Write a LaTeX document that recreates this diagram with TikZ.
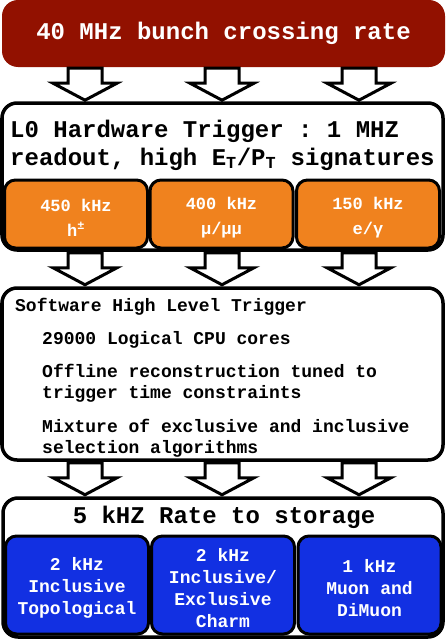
\documentclass[tikz,border=0pt]{standalone}
\usepackage{fontspec}
\setmonofont{Liberation Mono}
\definecolor{lhcbred}{RGB}{146,17,0}
\definecolor{lhcborange}{RGB}{240,130,30}
\definecolor{lhcbblue}{RGB}{18,48,226}
\begin{document}
\begin{tikzpicture}[x=1pt, y=-1pt, font=\ttfamily\bfseries,
    box/.style={draw, line width=3.5pt, rounded corners=15pt, inner sep=0pt, minimum width=441pt},
    subbox/.style={draw, line width=3pt, rounded corners=11pt, inner sep=0pt, text=white, align=center, minimum width=143pt},
    hollow/.style={draw, line width=3pt, fill=white, line join=miter},
    big/.style={font=\ttfamily\bfseries\fontsize{24}{28}\selectfont, inner sep=0pt},
    small/.style={font=\ttfamily\bfseries\fontsize{18}{21.5}\selectfont, inner sep=0pt, anchor=base west}]
    \useasboundingbox (0,0) rectangle (446,640);

    \node[fill=lhcbred, rounded corners=16pt, minimum width=443pt, minimum height=67pt, text=white, big] (rate) at (223.5,33.5) {40 MHz bunch crossing rate};

    % L0 hardware trigger
    \node[box, minimum height=147pt] (L0) at (222.5,176.5) {};
    \node[big, anchor=base west] (L0line1) at (10,137) {L0 Hardware Trigger : 1 MHZ};
    \node[big, anchor=base west] (L0line2) at (10,165) {readout, high E\textsubscript{T}/P\textsubscript{T} signatures};
    \foreach \x/\khz/\kind [count=\i] in {76/450/{h\textsuperscript{±}}, 221.5/400/{μ/μμ}, 368/150/{e/γ}} {
        \node[subbox, fill=lhcborange, minimum height=68pt] (L0sub\i) at (\x,214) {};
        \node[text=white, font=\ttfamily\bfseries\fontsize{17}{25}\selectfont, align=center] (L0rate\i) at (\x,217.5) {\khz{} kHz\\\kind};
      }

    % software HLT
    \node[box, minimum height=172pt] (HLT) at (222.5,374) {};
    \foreach \x/\y/\txt [count=\i] in {15/311/Software High Level Trigger, 42/344/29000 Logical CPU cores,
        42/377/Offline reconstruction tuned to, 42/398.5/trigger time constraints,
        42/432/Mixture of exclusive and inclusive, 42/453.5/selection algorithms} {
        \node[small] (HLTline\i) at (\x,\y) {\txt};
      }

    % output to storage
    \node[box, minimum width=440pt, minimum height=139pt] (store) at (223,567.5) {};
    \node[big, anchor=base] (storetext) at (224,523) {5 kHZ Rate to storage};
    \foreach \x/\txt [count=\i] in {77/{2 kHz\\Inclusive\\Topological}, 223/{2 kHz\\Inclusive/\\Exclusive\\Charm}, 369.5/{1 kHz\\Muon and\\DiMuon}} {
        \node[subbox, fill=lhcbblue, minimum height=98pt] (out\i) at (\x,585) {};
        \node[text=white, font=\ttfamily\bfseries\fontsize{18}{22}\selectfont, align=center] (outrate\i) at (\x,588) {\txt};
      }

    % hollow block arrows between the stages
    \foreach \a/\b in {rate/L0, L0/HLT, HLT/store} {
        \foreach \x in {85,222,359} {
            \draw[hollow] (\x,0 |- \a.south) ++(-17,1) -- ++(34,0) -- ++(0,15) -- ++(15,0) -- ++(-32,17) -- ++(-32,-17) -- ++(15,0) -- cycle;
          }
      }
\end{tikzpicture}
\end{document}
